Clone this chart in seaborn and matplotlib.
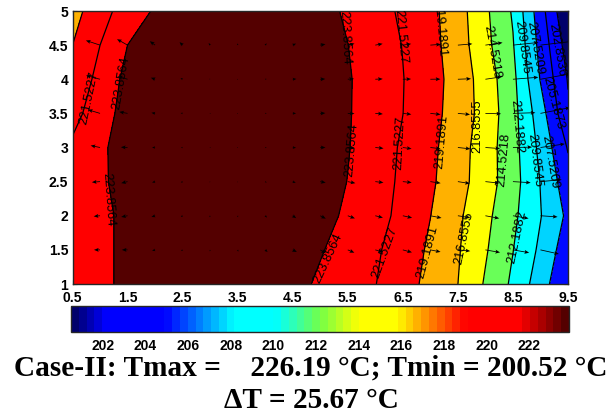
import numpy as np
import seaborn as sns
import matplotlib.pyplot as plt
from matplotlib.cm import ScalarMappable
from matplotlib.colors import LinearSegmentedColormap, Normalize

x_nodes = [0.5, 1, 1.5, 2, 2.5, 3, 3.5, 4, 4.5, 5, 5.5, 6, 6.5, 7, 7.5, 8, 8.5, 9, 9.5]
y_nodes = [1, 1.5, 2, 2.5, 3, 3.5, 4, 4.5, 5]

# temperature, one list per y row
temp_y1 = [222.5, 223.2, 224.5, 225.0, 225.3, 225.4, 225.3, 225.1, 224.6, 223.5, 222.53, 221.58, 220.11, 218.55, 216.86, 214.28, 211.76, 208.6, 205.3]
temp_y15 = [222.5, 223.2, 224.5, 225.1, 225.5, 225.6, 225.6, 225.4, 224.8, 224.03, 222.93, 221.85, 220.43, 218.84, 217.07, 214.76, 212.24, 209.4, 206.15]
temp_y2 = [222.4, 223.2, 224.5, 225.3, 225.7, 225.9, 225.9, 225.8, 225.3, 224.65, 223.46, 222.29, 220.94, 219.22, 217.26, 215.13, 212.69, 209.96, 207.05]
temp_y25 = [222.2, 223.4, 224.9, 225.5, 225.9, 226.1, 226.1, 226.0, 225.6, 225.0, 223.81, 222.5, 221.12, 219.57, 217.72, 215.63, 213.13, 209.78, 206.13]
temp_y3 = [221.9, 223.4, 225.0, 225.6, 226.0, 226.15, 226.19, 226.1, 225.7, 225.0, 223.97, 222.62, 221.25, 219.73, 217.88, 215.62, 213.04, 209.3, 205.0]
temp_y35 = [220.8, 222.75, 224.8, 225.5, 226.0, 226.15, 226.19, 226.1, 225.7, 225.0, 224.03, 222.79, 221.54, 219.98, 218.17, 215.98, 213.0, 208.59, 203.2]
temp_y4 = [219.9, 222.2, 224.5, 225.4, 225.9, 226.1, 226.19, 226.1, 225.7, 224.9, 224.05, 222.83, 221.59, 220.1, 218.26, 215.77, 212.82, 207.39, 202.7]
temp_y45 = [219.19, 221.52, 223.86, 225.0, 225.6, 226.0, 226.1, 226.0, 225.6, 224.9, 223.88, 222.68, 221.46, 219.94, 218.0, 215.17, 212.35, 206.75, 201.8]
temp_y5 = [218.3, 220.66, 222.54, 224.1, 224.9, 225.4, 225.6, 225.5, 225.2, 224.6, 223.54, 222.38, 221.17, 219.83, 217.84, 214.95, 211.94, 206.14, 200.6]

levels = [200.52, 202.8536, 205.1873, 207.5209, 209.8545, 212.1882, 214.5218, 216.8555, 219.1891, 221.5227, 223.8564, 226.19]
x_ticks = [0.5, 1.5, 2.5, 3.5, 4.5, 5.5, 6.5, 7.5, 8.5, 9.5]
y_ticks = [1, 1.5, 2, 2.5, 3, 3.5, 4, 4.5, 5]
y_ticklabels = ['1', '1.5', '2', '2.5', '3', '3.5', '4', '4.5', '5']
cbar_ticks = [202, 204, 206, 208, 210, 212, 214, 216, 218, 220, 222]

# contour labels: level index, pixel x, pixel y, rotation
label_spots = [
    (9, 89, 98, 78), (10, 121, 83, 80), (10, 108, 200, -86),
    (10, 345, 38, -87), (9, 401, 37, -85), (8, 440, 30, -85),
    (6, 492, 52, -80), (4, 522, 47, -82), (3, 535, 48, -80),
    (1, 557, 50, -80), (2, 553, 103, -75), (5, 517, 127, -85),
    (4, 535, 160, -83), (3, 550, 162, -80), (6, 504, 160, 85),
    (7, 477, 126, 90), (8, 442, 142, 85), (9, 400, 143, 87),
    (10, 352, 150, 85), (10, 328, 258, 65), (9, 385, 253, 70),
    (8, 427, 252, 75), (7, 464, 238, 78), (5, 517, 237, 78),
]

W, H = 610, 419
sns.set_theme(style='white')
plt.rcParams['font.family'] = ['Liberation Sans', 'DejaVu Sans']
plt.rcParams['axes.linewidth'] = 1.0

T = np.array([temp_y1, temp_y15, temp_y2, temp_y25, temp_y3, temp_y35, temp_y4, temp_y45, temp_y5])
X, Y = np.meshgrid(x_nodes, y_nodes)

cmap = LinearSegmentedColormap.from_list('case2', [
    (0.0, (0, 0, 0.42)), (0.065, (0, 0, 1)), (0.185, (0, 0, 1)),
    (0.325, (0, 1, 1)), (0.41, (0, 1, 1)), (0.5, (0.45, 1, 0.28)),
    (0.58, (1, 1, 0)), (0.655, (1, 1, 0)), (0.797, (1, 0, 0)),
    (0.905, (1, 0, 0)), (1.0, (0.33, 0, 0))], N=64)
norm = Normalize(levels[0], levels[-2])
band_colors = [cmap(norm(v)) for v in levels[:-1]]


def px_to_data(px, py):
    return 0.5 + (px - 72.5) * 9 / 495.5, 5 - (py - 11) * 4 / 273


fig = plt.figure(figsize=(W / 100, H / 100), dpi=100)
ax = fig.add_axes([72.5 / W, 1 - 284 / H, 495.5 / W, 273 / H])
ax.contourf(X, Y, T, levels=levels, colors=band_colors)
ax.contour(X, Y, T, levels=levels[1:-1], colors='black', linewidths=0.9)

# heat flow arrows, from the temperature grid
dTy, dTx = np.gradient(T, y_nodes, x_nodes)
ax.quiver(X[1:-1, 1:-1], Y[1:-1, 1:-1], -dTx[1:-1, 1:-1], -dTy[1:-1, 1:-1],
          scale_units='dots', scale=0.33, width=0.0016, headwidth=5, headlength=6,
          headaxislength=5, color='black', zorder=3)

for idx, px, py, rot in label_spots:
    lx, ly = px_to_data(px, py)
    ax.text(lx, ly, '%.4f' % levels[idx], rotation=rot, rotation_mode='anchor',
            ha='center', va='center', fontsize=9.3, color='black', clip_on=True, zorder=4)

ax.set_xlim(0.5, 9.5)
ax.set_ylim(1, 5)
ax.set_xticks(x_ticks)
ax.set_xticklabels([str(v) for v in x_ticks], fontweight='bold', fontsize=10)
ax.set_yticks(y_ticks)
ax.set_yticklabels(y_ticklabels, fontweight='bold', fontsize=10)
ax.tick_params(direction='in', length=3, width=0.8, top=True, right=True, left=True, bottom=True, colors='black')
ax.tick_params(axis='x', pad=5)
ax.tick_params(axis='y', pad=3)

cax = fig.add_axes([71 / W, 1 - 332 / H, 498 / W, 26 / H])
cb = fig.colorbar(ScalarMappable(norm=norm, cmap=cmap), cax=cax, orientation='horizontal', ticks=cbar_ticks)
cb.ax.set_xticklabels([str(v) for v in cbar_ticks], fontweight='bold', fontsize=10)
cb.ax.tick_params(direction='in', length=3, width=0.8, top=True, bottom=True, pad=5, colors='black')
cb.outline.set_linewidth(1.0)

serif = ['Liberation Serif', 'DejaVu Serif']
fig.text(311 / W, 1 - 368 / H, 'Case-II: Tmax =    226.19 °C; Tmin = 200.52 °C', ha='center', va='center',
         family=serif, fontweight='bold', fontsize=21.1, color='black')
fig.text(311 / W, 1 - 400 / H, 'ΔT = 25.67 °C', ha='center', va='center',
         family=serif, fontweight='bold', fontsize=21.1, color='black')

fig.savefig('out.png', dpi=100)
